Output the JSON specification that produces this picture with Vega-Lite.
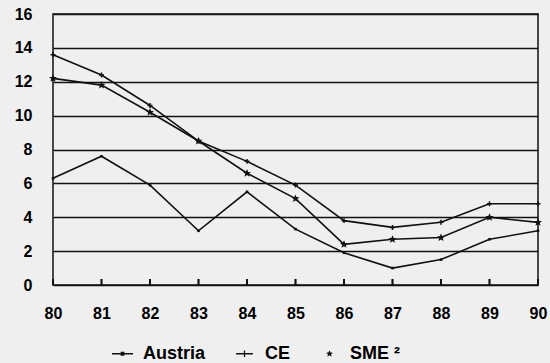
{
  "$schema": "https://vega.github.io/schema/vega-lite/v6.json",
  "autosize": "none",
  "width": 485,
  "height": 271,
  "padding": {"left": 53, "top": 14, "right": 12, "bottom": 78},
  "background": "#efefef",
  "config": {
    "font": "Liberation Sans",
    "view": {"fill": "#efefef", "stroke": "#111111", "strokeWidth": 1.5}
  },
  "data": {
    "values": [
      {"year": 80, "series": "Austria", "value": 6.3},
      {"year": 81, "series": "Austria", "value": 7.6},
      {"year": 82, "series": "Austria", "value": 5.9},
      {"year": 83, "series": "Austria", "value": 3.2},
      {"year": 84, "series": "Austria", "value": 5.5},
      {"year": 85, "series": "Austria", "value": 3.3},
      {"year": 86, "series": "Austria", "value": 1.9},
      {"year": 87, "series": "Austria", "value": 1.0},
      {"year": 88, "series": "Austria", "value": 1.5},
      {"year": 89, "series": "Austria", "value": 2.7},
      {"year": 90, "series": "Austria", "value": 3.2},
      {"year": 80, "series": "CE", "value": 13.6},
      {"year": 81, "series": "CE", "value": 12.4},
      {"year": 82, "series": "CE", "value": 10.6},
      {"year": 83, "series": "CE", "value": 8.5},
      {"year": 84, "series": "CE", "value": 7.3},
      {"year": 85, "series": "CE", "value": 5.9},
      {"year": 86, "series": "CE", "value": 3.8},
      {"year": 87, "series": "CE", "value": 3.4},
      {"year": 88, "series": "CE", "value": 3.7},
      {"year": 89, "series": "CE", "value": 4.8},
      {"year": 90, "series": "CE", "value": 4.8},
      {"year": 80, "series": "SME ²", "value": 12.2},
      {"year": 81, "series": "SME ²", "value": 11.8},
      {"year": 82, "series": "SME ²", "value": 10.2},
      {"year": 83, "series": "SME ²", "value": 8.5},
      {"year": 84, "series": "SME ²", "value": 6.6},
      {"year": 85, "series": "SME ²", "value": 5.1},
      {"year": 86, "series": "SME ²", "value": 2.4},
      {"year": 87, "series": "SME ²", "value": 2.7},
      {"year": 88, "series": "SME ²", "value": 2.8},
      {"year": 89, "series": "SME ²", "value": 4.0},
      {"year": 90, "series": "SME ²", "value": 3.7}
    ]
  },
  "encoding": {
    "x": {
      "field": "year", "type": "quantitative",
      "scale": {"domain": [80, 90], "nice": false},
      "axis": {
        "title": null, "values": [80, 81, 82, 83, 84, 85, 86, 87, 88, 89, 90],
        "grid": false, "domain": false, "ticks": false, "tickSize": 0, "labelFlush": false,
        "labelPadding": 20, "labelFontSize": 16, "labelFontWeight": "bold", "labelColor": "#000000"
      }
    },
    "y": {
      "field": "value", "type": "quantitative",
      "scale": {"domain": [0, 16], "nice": false},
      "axis": {
        "title": null, "values": [0, 2, 4, 6, 8, 10, 12, 14, 16],
        "grid": true, "gridColor": "#111111", "gridWidth": 1.4, "gridOpacity": 1,
        "domain": false, "ticks": false, "tickSize": 0,
        "labelPadding": 21, "labelFontSize": 16, "labelFontWeight": "bold", "labelColor": "#000000"
      }
    }
  },
  "layer": [
    {
      "mark": {"type": "line", "color": "#111111", "strokeWidth": 1.6},
      "encoding": {"detail": {"field": "series", "type": "nominal"}}
    },
    {
      "mark": {"type": "point", "filled": true, "fill": "#111111", "stroke": "#111111", "strokeWidth": 1.5, "size": 121, "opacity": 1},
      "encoding": {
        "shape": {
          "field": "series", "type": "nominal",
          "scale": {
            "domain": ["Austria", "CE", "SME ²"],
            "range": [
              "M-0.1,-0.1H0.1V0.1H-0.1Z",
              "M-0.45,0H0.45M0,-0.45V0.45",
              "M0,-0.4L0.11,-0.14L0.38,-0.12L0.17,0.06L0.24,0.33L0,0.18L-0.24,0.33L-0.17,0.06L-0.38,-0.12L-0.11,-0.14Z"
            ]
          },
          "legend": null
        }
      }
    },
    {
      "transform": [{"filter": "datum.value < 0"}],
      "mark": {"type": "point", "filled": true, "fill": "#111111", "opacity": 1},
      "encoding": {
        "shape": {
          "field": "series", "type": "nominal",
          "scale": {
            "domain": ["Austria", "CE", "SME ²"],
            "range": [
              "M-1,-0.06H1V0.06H-1ZM-0.18,-0.18H0.18V0.18H-0.18Z",
              "M-0.8,-0.06H0.8V0.06H-0.8ZM-0.06,-0.3H0.06V0.3H-0.06Z",
              "M0,-0.34L0.1,-0.11L0.32,-0.1L0.15,0.05L0.2,0.28L0,0.15L-0.2,0.28L-0.15,0.05L-0.32,-0.1L-0.1,-0.11Z"
            ]
          },
          "legend": {
            "title": null, "orient": "none", "direction": "horizontal",
            "legendX": 58, "legendY": 328,
            "symbolSize": 441, "symbolFillColor": "#111111", "symbolOpacity": 1,
            "labelFontSize": 18, "labelFontWeight": "bold", "labelColor": "#000000",
            "labelOffset": 9, "columnPadding": 27
          }
        }
      }
    },
    {
      "mark": {"type": "point", "shape": "M0,-1V0", "filled": false, "fill": "transparent", "stroke": "#111111", "strokeWidth": 1.5, "size": 144, "opacity": 1},
      "encoding": {
        "y": {"datum": 0}
      }
    }
  ],
  "resolve": {"scale": {"shape": "independent"}}
}
